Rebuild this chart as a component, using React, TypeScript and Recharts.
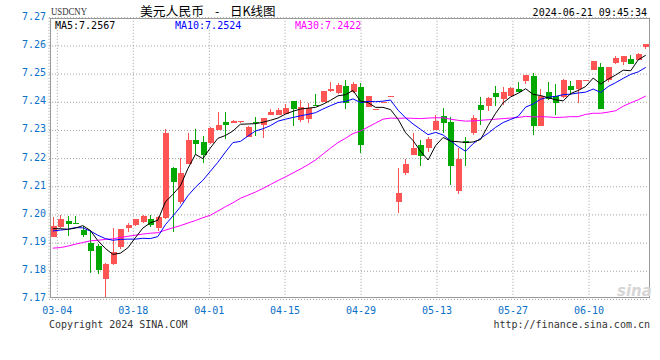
import React from 'react';
import { ComposedChart, Bar, Line, XAxis, YAxis, CartesianGrid } from 'recharts';

// ---- data (one entry per trading slot) ----
const openP = [
  7.1922, 7.1958, 7.1978, 7.1971, 7.1946, 7.19, 7.1889, 7.1773, 7.1826, 7.1885,
  7.1954, 7.1964, 7.1975, 7.1984, 7.1954, 7.1988, 7.2168, 7.2047, 7.2181, 7.2266,
  7.226, 7.2254, 7.2301, 7.233, 7.2327, 7.2329, 7.2278, 7.233, 7.2321, 7.2355,
  7.2355, 7.2358, 7.2403, 7.2337, 7.234, 7.239, 7.2401, 7.244, 7.2432, 7.2458,
  7.2435, 7.2455, 7.2384, 7.2374, 7.24, 7.2421, 7.2047, 7.215, 7.2213, 7.225,
  7.2239, 7.2301, 7.2351, 7.233, 7.2086, 7.2262, 7.2292, 7.239, 7.2387, 7.2434,
  7.2412, 7.2422, 7.2448, 7.2474, 7.2494, 7.2316, 7.2436, 7.2422, 7.242, 7.2458,
  7.2447, 7.2477, 7.2515, 7.2524, 7.2479, 7.2541, 7.2544, 7.2554, 7.255, 7.2595,
];
const closeP = [
  7.196, 7.1985, 7.1968, 7.197, 7.1929, 7.1872, 7.1806, 7.1827, 7.1868, 7.1949,
  7.1964, 7.1985, 7.1997, 7.1964, 7.1993, 7.2292, 7.2117, 7.215, 7.2266, 7.2252,
  7.2213, 7.2308, 7.2319, 7.2318, 7.2332, 7.2332, 7.2313, 7.2325, 7.2344, 7.2366,
  7.2372, 7.2381, 7.2377, 7.2382, 7.2381, 7.2387, 7.244, 7.2447, 7.2461, 7.2398,
  7.2465, 7.2248, 7.2422, 7.2375, 7.2401, 7.2422, 7.2079, 7.2181, 7.2239, 7.221,
  7.2268, 7.2333, 7.2327, 7.2174, 7.2198, 7.2254, 7.2343, 7.2372, 7.2416, 7.242,
  7.2438, 7.245, 7.2437, 7.2497, 7.2316, 7.2422, 7.241, 7.2399, 7.2479, 7.2444,
  7.2479, 7.2479, 7.2547, 7.2377, 7.2526, 7.2558, 7.2564, 7.2537, 7.2571, 7.2606,
];
const highP = [
  7.1993, 7.1998, 7.1996, 7.1996, 7.1962, 7.1946, 7.1898, 7.1828, 7.1954, 7.195,
  7.1972, 7.1986, 7.1998, 7.1999, 7.1996, 7.2304, 7.217, 7.2203, 7.2292, 7.2305,
  7.228, 7.2311, 7.2365, 7.2365, 7.2337, 7.2333, 7.2314, 7.2346, 7.2345, 7.2375,
  7.2381, 7.2393, 7.2404, 7.2408, 7.2396, 7.2429, 7.2441, 7.2472, 7.2467, 7.2479,
  7.2472, 7.2469, 7.2423, 7.2376, 7.2402, 7.2423, 7.2168, 7.2198, 7.229, 7.2266,
  7.2275, 7.2355, 7.2378, 7.2349, 7.2236, 7.2275, 7.2355, 7.242, 7.2417, 7.2458,
  7.2456, 7.2454, 7.2472, 7.2498, 7.2503, 7.2446, 7.2473, 7.2465, 7.2481, 7.2475,
  7.248, 7.248, 7.2548, 7.2541, 7.2527, 7.2564, 7.2565, 7.2568, 7.2574, 7.2607,
];
const lowP = [
  7.192, 7.1955, 7.1925, 7.1967, 7.192, 7.1794, 7.179, 7.1705, 7.1822, 7.188,
  7.194, 7.1959, 7.1972, 7.1957, 7.1942, 7.1985, 7.194, 7.2038, 7.218, 7.2215,
  7.2185, 7.2253, 7.2301, 7.2268, 7.2327, 7.2328, 7.2275, 7.228, 7.2274, 7.2354,
  7.2354, 7.2357, 7.2317, 7.2331, 7.2325, 7.2387, 7.24, 7.2438, 7.2431, 7.2376,
  7.2434, 7.2221, 7.2383, 7.2373, 7.2399, 7.242, 7.2008, 7.2142, 7.2212, 7.2175,
  7.2224, 7.23, 7.2292, 7.2106, 7.2074, 7.2174, 7.2284, 7.2319, 7.2369, 7.2387,
  7.239, 7.2421, 7.2437, 7.2466, 7.2284, 7.2315, 7.2409, 7.2356, 7.2416, 7.2427,
  7.2396, 7.2477, 7.2514, 7.2376, 7.2473, 7.2535, 7.2532, 7.2536, 7.2549, 7.2588,
];
const ma5 = [
  7.1951, 7.1951, 7.1949, 7.1953, 7.1962, 7.1945, 7.1909, 7.1881, 7.186, 7.1864,
  7.1883, 7.1919, 7.1953, 7.1972, 7.1981, 7.2046, 7.2073, 7.2103, 7.2164, 7.2215,
  7.22, 7.2238, 7.2272, 7.2282, 7.2298, 7.2322, 7.2323, 7.2324, 7.2329, 7.2336,
  7.2344, 7.2358, 7.2368, 7.2376, 7.2379, 7.2382, 7.2393, 7.2407, 7.2423, 7.2427,
  7.2442, 7.2404, 7.2399, 7.2382, 7.2382, 7.2374, 7.234, 7.2292, 7.2264, 7.2226,
  7.2195, 7.2246, 7.2275, 7.2262, 7.226, 7.2257, 7.2259, 7.2268, 7.2317, 7.2361,
  7.2398, 7.2419, 7.2432, 7.2448, 7.2428, 7.2424, 7.2416, 7.2409, 7.2405, 7.2431,
  7.2442, 7.2456, 7.2486, 7.2465, 7.2482, 7.2497, 7.2514, 7.2512, 7.2551, 7.2567,
];
const ma10 = [
  7.1943, 7.1946, 7.1949, 7.1955, 7.1954, 7.1943, 7.1928, 7.1916, 7.191, 7.1913,
  7.1914, 7.1914, 7.1917, 7.1916, 7.1923, 7.1965, 7.1996, 7.2028, 7.2068, 7.2098,
  7.2123, 7.2155, 7.2187, 7.2223, 7.2257, 7.2261, 7.228, 7.2298, 7.2306, 7.2317,
  7.2333, 7.234, 7.2346, 7.2352, 7.2357, 7.2363, 7.2376, 7.2388, 7.2399, 7.2403,
  7.2412, 7.2399, 7.2403, 7.2402, 7.2404, 7.2408, 7.2372, 7.2345, 7.2323, 7.2304,
  7.2285, 7.2293, 7.2284, 7.2263, 7.2243, 7.2226, 7.2253, 7.2272, 7.229, 7.2311,
  7.2328, 7.2339, 7.235, 7.2383, 7.2394, 7.2411, 7.2418, 7.2421, 7.2427, 7.2429,
  7.2433, 7.2436, 7.2447, 7.2435, 7.2456, 7.247, 7.2485, 7.2499, 7.2508, 7.2524,
];
const ma30 = [
  7.1882, 7.1884, 7.1889, 7.1896, 7.1902, 7.1908, 7.191, 7.1913, 7.1915, 7.192,
  7.1924, 7.1928, 7.1932, 7.1935, 7.1937, 7.1946, 7.1954, 7.1962, 7.1971, 7.198,
  7.199, 7.1999, 7.2014, 7.2029, 7.2043, 7.2059, 7.207, 7.2081, 7.2094, 7.2108,
  7.2122, 7.2135, 7.2149, 7.2163, 7.2178, 7.2195, 7.2216, 7.2237, 7.2257, 7.2272,
  7.2289, 7.2298, 7.2312, 7.2326, 7.234, 7.2344, 7.2343, 7.2344, 7.2343, 7.2342,
  7.2344, 7.2345, 7.2345, 7.234, 7.2336, 7.2333, 7.2334, 7.2336, 7.2338, 7.234,
  7.2342, 7.2344, 7.2346, 7.235, 7.2348, 7.2349, 7.2348, 7.2346, 7.2347, 7.2349,
  7.2349, 7.2357, 7.2361, 7.2361, 7.2365, 7.237, 7.2386, 7.2398, 7.2409, 7.2422,
];
const tickLabels = ['03-04', '03-18', '04-01', '04-15', '04-29', '05-13', '05-27', '06-10'];
const tickSlots = [0.61, 10.73, 20.86, 30.94, 41.07, 51.19, 61.31, 71.44];
const yTicks = [7.17, 7.18, 7.19, 7.2, 7.21, 7.22, 7.23, 7.24, 7.25, 7.26, 7.27];
const legendItems = [
  { label: 'MA5:7.2567', color: '#000000' },
  { label: 'MA10:7.2524', color: '#0000FF' },
  { label: 'MA30:7.2422', color: '#FF00FF' },
];

const data = openP.map((o, i) => ({
  i,
  open: o,
  close: closeP[i],
  high: highP[i],
  low: lowP[i],
  range: [lowP[i], highP[i]],
  ma5: ma5[i],
  ma10: ma10[i],
  ma30: ma30[i],
}));

const RED = '#FF5454';
const GREEN = '#00A800';
const AXIS_BLUE = '#0A70C8';
const MONO = '"DejaVu Sans Mono", "Liberation Mono", monospace';
const CJK = '"Noto Sans CJK SC", sans-serif';

function Candle(props: any) {
  const { x, y, width, height, payload } = props;
  if (!payload || x == null) return null;
  const { open, close, high, low } = payload;
  const cx = Math.floor(x + width / 2);
  const span = high - low;
  const toY = (v: number) => (span > 0 ? y + ((high - v) / span) * height : y);
  const up = close >= open;
  const color = up ? RED : GREEN;
  const top = Math.round(toY(Math.max(open, close)));
  const bot = Math.round(toY(Math.min(open, close)));
  const bh = Math.max(1, bot - top);
  return (
    <g>
      <rect x={cx} y={Math.round(y)} width={1} height={Math.max(1, Math.round(y + height) - Math.round(y))} fill={color} />
      <rect x={cx - 2} y={top} width={6} height={bh} fill={color} />
    </g>
  );
}

function YTick(props: any) {
  const { y, payload } = props;
  return (
    <text x={46} y={y + 2} textAnchor="end" fontFamily={MONO} fontSize={10} fill={AXIS_BLUE}>
      {Number(payload.value).toFixed(2)}
    </text>
  );
}

function XTick(props: any) {
  const { x, payload } = props;
  const idx = tickSlots.indexOf(payload.value);
  return (
    <text x={x} y={314} textAnchor="middle" fontFamily={MONO} fontSize={10} fill={AXIS_BLUE}>
      {tickLabels[idx] ?? ''}
    </text>
  );
}

export default function App() {
  return (
    <div style={{ position: 'absolute', left: 0, top: 0, width: 660, height: 360, background: '#fff' }}>
      <ComposedChart
        width={660}
        height={360}
        data={data}
        margin={{ top: 17.8, right: 10.5, bottom: 30.6, left: 0 }}
      >
        <CartesianGrid stroke="#A0A0A0" strokeDasharray="1 2" />
        <XAxis
          dataKey="i"
          type="number"
          domain={[-0.5, 79.5]}
          ticks={tickSlots}
          interval={0}
          axisLine={false}
          tickLine={false}
          height={30}
          tick={<XTick />}
        />
        <YAxis
          type="number"
          domain={[7.17, 7.27]}
          ticks={yTicks}
          interval={0}
          axisLine={false}
          tickLine={false}
          width={49}
          tick={<YTick />}
        />
        <Bar dataKey="range" barSize={6} shape={<Candle />} isAnimationActive={false} />
        <Line type="linear" dataKey="ma30" stroke="#FF00FF" strokeWidth={1} dot={false} isAnimationActive={false} />
        <Line type="linear" dataKey="ma10" stroke="#0000FF" strokeWidth={1} dot={false} isAnimationActive={false} />
        <Line type="linear" dataKey="ma5" stroke="#000000" strokeWidth={1} dot={false} isAnimationActive={false} />
      </ComposedChart>
      <svg
        width={660}
        height={360}
        style={{ position: 'absolute', left: 0, top: 0, pointerEvents: 'none' }}
      >
        <rect x={50.5} y={18.5} width={599} height={279} fill="none" stroke="#999999" strokeWidth={1} />
        <text x={51} y={15} fontFamily='"Liberation Serif", serif' fontSize={11} fill="#333" textLength={36} lengthAdjust="spacingAndGlyphs">
          USDCNY
        </text>
        <text x={140} y={15.5} fontFamily={CJK} fontSize={12.5} fill="#000" textLength={64} lengthAdjust="spacingAndGlyphs">
          美元人民币
        </text>
        <text x={215} y={15.5} fontFamily={CJK} fontSize={12.5} fill="#000">
          -
        </text>
        <text x={230} y={15.5} fontFamily={CJK} fontSize={12.5} fill="#000">
          日K线图
        </text>
        <text x={647} y={16} textAnchor="end" fontFamily={MONO} fontSize={10} fill="#000">
          2024-06-21 09:45:34
        </text>
        {legendItems.map((it, k) => (
          <text key={it.label} x={55 + k * 120} y={28.5} fontFamily={MONO} fontSize={10} fill={it.color}>
            {it.label}
          </text>
        ))}
        <text x={617} y={296} fontFamily='"DejaVu Sans", sans-serif' fontStyle="italic" fontWeight="bold" fontSize={15} fill="#D6D6D6">
          sina
        </text>
        <text x={49} y={328} fontFamily={MONO} fontSize={10} fill="#333">
          Copyright 2024 SINA.COM
        </text>
        <text x={650} y={328} textAnchor="end" fontFamily={MONO} fontSize={10} fill="#333">
          http://finance.sina.com.cn
        </text>
      </svg>
    </div>
  );
}
